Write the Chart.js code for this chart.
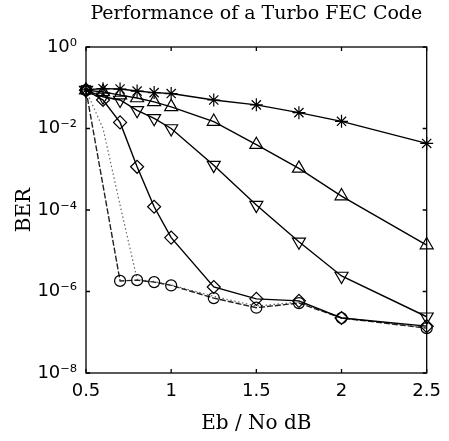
<!DOCTYPE html>
<html>
<head>
<meta charset="utf-8">
<script src="https://cdn.jsdelivr.net/npm/chart.js@4.4.1/dist/chart.umd.min.js"></script>
<style>
  html, body { margin: 0; padding: 0; background: #fff; }
  canvas { display: block; }
</style>
</head>
<body>
<canvas id="c" width="449" height="441"></canvas>
<script>
// ---- data ----
const ebno = [0.5, 0.6, 0.7, 0.8, 0.9, 1.0, 1.25, 1.5, 1.75, 2.0, 2.5];
const ebnoCircle = [0.5, 0.7, 0.8, 0.9, 1.0, 1.25, 1.5, 1.75, 2.0, 2.5];

const berStar    = [8.9e-2, 9.5e-2, 9.3e-2, 8.3e-2, 7.6e-2, 7.2e-2, 5.0e-2, 3.8e-2, 2.45e-2, 1.5e-2, 4.3e-3];
const berUp      = [8.7e-2, 7.9e-2, 6.6e-2, 5.6e-2, 4.5e-2, 3.4e-2, 1.48e-2, 4.0e-3, 1.05e-3, 2.2e-4, 1.38e-5];
const berDown    = [8.7e-2, 6.0e-2, 5.0e-2, 2.8e-2, 1.78e-2, 1.0e-2, 1.26e-3, 1.32e-4, 1.66e-5, 2.4e-6, 2.4e-7];
const berDiamond = [8.7e-2, 5.0e-2, 1.41e-2, 1.15e-3, 1.2e-4, 2.1e-5, 1.29e-6, 6.6e-7, 5.9e-7, 2.24e-7, 1.41e-7];
const berCircle  = [8.7e-2, 1.82e-6, 1.9e-6, 1.7e-6, 1.41e-6, 6.9e-7, 4.0e-7, 5.2e-7, 2.24e-7, 1.26e-7];
const berDotted  = [8.7e-2, 1.0e-2, 1.32e-4, 2.0e-6, 1.74e-6, 1.45e-6, 7.6e-7, 4.4e-7, 5.5e-7, 2.3e-7, 1.32e-7];

const xTicks = [0.5, 1, 1.5, 2, 2.5];
const yTickExponents = [0, -2, -4, -6, -8];

const titleText = 'Performance of a Turbo FEC Code';
const xLabel = 'Eb / No dB';
const yLabel = 'BER';

// ---- helpers ----
const sup = {'0':'⁰','1':'¹','2':'²','3':'³','4':'⁴','5':'⁵','6':'⁶','7':'⁷','8':'⁸','9':'⁹','-':'⁻'};
function pow10Label(e) { return '10' + String(e).split('').map(c => sup[c]).join(''); }
function pairs(xs, ys) { return xs.map((x, i) => ({ x: x, y: ys[i] })); }

function series(label, xs, ys, style) {
  return Object.assign({
    label: label,
    data: pairs(xs, ys),
    borderColor: '#000',
    backgroundColor: 'rgba(0,0,0,0)',
    pointBorderColor: '#000',
    pointBackgroundColor: 'rgba(0,0,0,0)',
    borderWidth: 1.4,
    pointBorderWidth: 1.2,
    tension: 0,
    clip: false
  }, style);
}

const frame = {
  id: 'frame',
  afterDatasetsDraw(chart) {
    const { ctx, chartArea: a, scales } = chart;
    const x = scales.x, y = scales.y;
    ctx.save();
    ctx.strokeStyle = '#000';
    ctx.lineWidth = 1.3;
    ctx.strokeRect(a.left, a.top, a.right - a.left, a.bottom - a.top);
    ctx.beginPath();
    x.ticks.forEach(t => {
      const px = x.getPixelForValue(t.value);
      ctx.moveTo(px, a.bottom); ctx.lineTo(px, a.bottom - 4);
      ctx.moveTo(px, a.top); ctx.lineTo(px, a.top + 4);
    });
    y.ticks.forEach(t => {
      const py = y.getPixelForValue(t.value);
      ctx.moveTo(a.left, py); ctx.lineTo(a.left + 4, py);
      ctx.moveTo(a.right, py); ctx.lineTo(a.right - 4, py);
    });
    ctx.stroke();
    ctx.restore();
  }
};

new Chart(document.getElementById('c'), {
  type: 'line',
  data: {
    datasets: [
      series('Iteration 1', ebno, berStar, { pointStyle: 'star', pointRadius: 6.5 }),
      series('Iteration 2', ebno, berUp, { pointStyle: 'triangle', pointRadius: 7.5 }),
      series('Iteration 3', ebno, berDown, { pointStyle: 'triangle', pointRotation: 180, pointRadius: 7.5 }),
      series('Iteration 4', ebno, berDiamond, { pointStyle: 'rectRot', pointRadius: 6.5 }),
      series('Iteration 5', ebnoCircle, berCircle, { pointStyle: 'circle', pointRadius: 5.5, borderColor: '#222', borderDash: [6, 2] }),
      series('Iteration 6', ebno, berDotted, { pointRadius: 0, borderColor: '#666', borderWidth: 1.2, borderDash: [1.5, 2.5] })
    ]
  },
  options: {
    responsive: false,
    animation: false,
    devicePixelRatio: 1,
    layout: { padding: { left: 0, right: 17, top: 0, bottom: 0 } },
    plugins: {
      legend: { display: false },
      tooltip: { enabled: false },
      title: {
        display: true,
        text: titleText,
        fullSize: false,
        color: '#000',
        font: { family: 'DejaVu Serif', size: 19, weight: 'normal' },
        padding: { top: 3, bottom: 21.2 }
      }
    },
    scales: {
      x: {
        type: 'linear',
        min: 0.5,
        max: 2.5,
        afterBuildTicks: axis => { axis.ticks = xTicks.map(v => ({ value: v })); },
        afterFit: s => { s.height = 68; },
        grid: { display: false, drawTicks: false },
        border: { display: false },
        ticks: {
          autoSkip: false,
          maxRotation: 0,
          padding: 8,
          color: '#000',
          font: { family: 'DejaVu Sans', size: 18 },
          callback: v => String(v)
        },
        title: {
          display: true,
          text: xLabel,
          color: '#000',
          font: { family: 'DejaVu Serif', size: 20, weight: 'normal' },
          padding: { top: 0, bottom: 5 }
        }
      },
      y: {
        type: 'logarithmic',
        min: 1e-8,
        max: 1,
        afterBuildTicks: axis => { axis.ticks = yTickExponents.map(e => ({ value: Math.pow(10, e) })); },
        afterFit: s => { s.width = 86; },
        grid: { display: false, drawTicks: false },
        border: { display: false },
        ticks: {
          autoSkip: false,
          padding: 9,
          color: '#000',
          font: { family: 'DejaVu Sans', size: 18 },
          callback: v => pow10Label(Math.round(Math.log10(v)))
        },
        title: {
          display: true,
          text: yLabel,
          color: '#000',
          font: { family: 'DejaVu Serif', size: 20, weight: 'normal' },
          padding: { top: 13, bottom: 0 }
        }
      }
    }
  },
  plugins: [frame]
});
</script>
</body>
</html>
